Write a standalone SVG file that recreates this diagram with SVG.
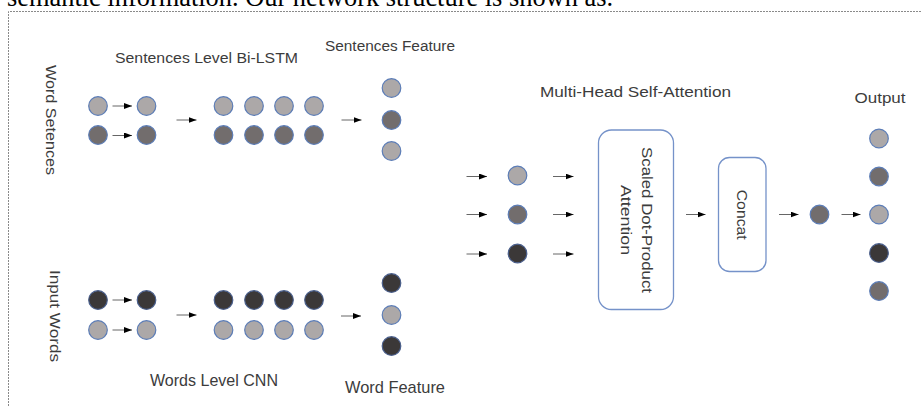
<svg xmlns="http://www.w3.org/2000/svg" width="922" height="406" viewBox="0 0 922 406">
<style>
.t{font-family:"Liberation Sans",Arial,sans-serif;fill:#3c3c3c}
.s{font-size:15.5px}
.b{font-size:17px}
.L{fill:#aca8a8;stroke:#5b7cb6;stroke-width:1.2}
.M{fill:#726d6d;stroke:#5b7cb6;stroke-width:1.2}
.D{fill:#3b3838;stroke:#4a5f8c;stroke-width:1.2}
.box{fill:#fff;stroke:#7592c9;stroke-width:1.3}
.ar{stroke:#666;stroke-width:1;marker-end:url(#ah)}
</style>
<defs>
<marker id="ah" markerUnits="userSpaceOnUse" markerWidth="8" markerHeight="6" refX="8" refY="3" orient="auto"><path d="M0,0 L8,3 L0,6 z" fill="#000"/></marker>
</defs>
<rect width="922" height="406" fill="#fff"/>
<text x="7" y="5.5" font-family="'Liberation Serif','Times New Roman',serif" font-size="26.5" fill="#000" textLength="606" lengthAdjust="spacingAndGlyphs">semantic information. Our network structure is shown as.</text>
<path d="M8.5,406 V11.5 H922" fill="none" stroke="#8a8a8a" stroke-width="1" stroke-dasharray="2,1"/>

<g id="labels">
<text class="t s" x="115" y="63" textLength="183" lengthAdjust="spacingAndGlyphs">Sentences Level Bi-LSTM</text>
<text class="t s" x="325" y="51" textLength="130" lengthAdjust="spacingAndGlyphs">Sentences Feature</text>
<text class="t b" x="150" y="385.5" textLength="128" lengthAdjust="spacingAndGlyphs">Words Level CNN</text>
<text class="t b" x="345" y="393" textLength="100" lengthAdjust="spacingAndGlyphs">Word Feature</text>
<text class="t s" x="540" y="96.5" textLength="191" lengthAdjust="spacingAndGlyphs">Multi-Head Self-Attention</text>
<text class="t s" x="854.5" y="103" textLength="51" lengthAdjust="spacingAndGlyphs">Output</text>
<text class="t s" transform="translate(45.5,65) rotate(90)" textLength="110" lengthAdjust="spacingAndGlyphs">Word Setences</text>
<text class="t s" transform="translate(50,270) rotate(90)" textLength="92" lengthAdjust="spacingAndGlyphs">Input Words</text>
</g>

<g id="connectors">
<line class="ar" x1="112.5" y1="106" x2="132" y2="106"/>
<line class="ar" x1="112.5" y1="135.5" x2="132" y2="135.5"/>
<line class="ar" x1="112.5" y1="300" x2="132" y2="300"/>
<line class="ar" x1="112.5" y1="330" x2="132" y2="330"/>
<line class="ar" x1="176.5" y1="120" x2="196.5" y2="120"/>
<line class="ar" x1="341.5" y1="120" x2="361.5" y2="120"/>
<line class="ar" x1="176.5" y1="315" x2="196.5" y2="315"/>
<line class="ar" x1="341" y1="316" x2="361" y2="316"/>
<line class="ar" x1="466.5" y1="176.5" x2="487" y2="176.5"/>
<line class="ar" x1="466.5" y1="214.5" x2="487" y2="214.5"/>
<line class="ar" x1="466.5" y1="254" x2="487" y2="254"/>
<line class="ar" x1="553" y1="176.5" x2="573.5" y2="176.5"/>
<line class="ar" x1="553" y1="214.5" x2="573.5" y2="214.5"/>
<line class="ar" x1="553" y1="254" x2="573.5" y2="254"/>
<line class="ar" x1="686" y1="214.5" x2="705.5" y2="214.5"/>
<line class="ar" x1="779" y1="214.5" x2="798.5" y2="214.5"/>
<line class="ar" x1="841.5" y1="214.5" x2="860.5" y2="214.5"/>
</g>

<g id="ws-in-1"><circle class="L" cx="98" cy="106" r="9.3"/></g>
<g id="ws-in-2"><circle class="M" cx="98" cy="135" r="9.3"/></g>
<g id="ws-out-1"><circle class="L" cx="146.5" cy="106" r="9.3"/></g>
<g id="ws-out-2"><circle class="M" cx="146.5" cy="135" r="9.3"/></g>
<g id="lstm-1a"><circle class="L" cx="223.5" cy="106" r="9.3"/></g>
<g id="lstm-2a"><circle class="L" cx="254" cy="106" r="9.3"/></g>
<g id="lstm-3a"><circle class="L" cx="284" cy="106" r="9.3"/></g>
<g id="lstm-4a"><circle class="L" cx="314" cy="106" r="9.3"/></g>
<g id="lstm-1b"><circle class="M" cx="223.5" cy="135" r="9.3"/></g>
<g id="lstm-2b"><circle class="M" cx="254" cy="135" r="9.3"/></g>
<g id="lstm-3b"><circle class="M" cx="284" cy="135" r="9.3"/></g>
<g id="lstm-4b"><circle class="M" cx="314" cy="135" r="9.3"/></g>
<g id="sf-1"><circle class="L" cx="391.5" cy="88" r="9.3"/></g>
<g id="sf-2"><circle class="M" cx="391.5" cy="120" r="9.3"/></g>
<g id="sf-3"><circle class="L" cx="391.5" cy="151" r="9.3"/></g>

<g id="iw-in-1"><circle class="D" cx="98" cy="300" r="9.3"/></g>
<g id="iw-in-2"><circle class="L" cx="98" cy="330" r="9.3"/></g>
<g id="iw-out-1"><circle class="D" cx="146.5" cy="300" r="9.3"/></g>
<g id="iw-out-2"><circle class="L" cx="146.5" cy="330" r="9.3"/></g>
<g id="cnn-1a"><circle class="D" cx="223.5" cy="300" r="9.3"/></g>
<g id="cnn-2a"><circle class="D" cx="254" cy="300" r="9.3"/></g>
<g id="cnn-3a"><circle class="D" cx="284" cy="300" r="9.3"/></g>
<g id="cnn-4a"><circle class="D" cx="314" cy="300" r="9.3"/></g>
<g id="cnn-1b"><circle class="L" cx="223.5" cy="330" r="9.3"/></g>
<g id="cnn-2b"><circle class="L" cx="254" cy="330" r="9.3"/></g>
<g id="cnn-3b"><circle class="L" cx="284" cy="330" r="9.3"/></g>
<g id="cnn-4b"><circle class="L" cx="314" cy="330" r="9.3"/></g>
<g id="wf-1"><circle class="D" cx="391.5" cy="283" r="9.3"/></g>
<g id="wf-2"><circle class="L" cx="391.5" cy="315" r="9.3"/></g>
<g id="wf-3"><circle class="D" cx="391.5" cy="346" r="9.3"/></g>

<g id="mh-1"><circle class="L" cx="517.5" cy="175.5" r="9.3"/></g>
<g id="mh-2"><circle class="M" cx="517.5" cy="214.5" r="9.3"/></g>
<g id="mh-3"><circle class="D" cx="517.5" cy="253.5" r="9.3"/></g>

<g id="sdpa">
<rect class="box" x="598.5" y="130" width="75" height="179.5" rx="13"/>
<text class="t s" text-anchor="middle" transform="translate(641.5,220) rotate(90)" textLength="146" lengthAdjust="spacingAndGlyphs">Scaled Dot-Product</text>
<text class="t s" text-anchor="middle" transform="translate(620.5,220) rotate(90)" textLength="70" lengthAdjust="spacingAndGlyphs">Attention</text>
</g>
<g id="concat">
<rect class="box" x="718.5" y="157.5" width="47.5" height="114" rx="11"/>
<text class="t s" text-anchor="middle" transform="translate(737,214.7) rotate(90)" textLength="50" lengthAdjust="spacingAndGlyphs">Concat</text>
</g>
<g id="concat-out"><circle class="M" cx="819.5" cy="214.5" r="9.3"/></g>

<g id="out-1"><circle class="L" cx="879" cy="138.5" r="9.3"/></g>
<g id="out-2"><circle class="M" cx="879" cy="176.5" r="9.3"/></g>
<g id="out-3"><circle class="L" cx="879" cy="214.5" r="9.3"/></g>
<g id="out-4"><circle class="D" cx="879" cy="253" r="9.3"/></g>
<g id="out-5"><circle class="M" cx="879" cy="291" r="9.3"/></g>
</svg>
